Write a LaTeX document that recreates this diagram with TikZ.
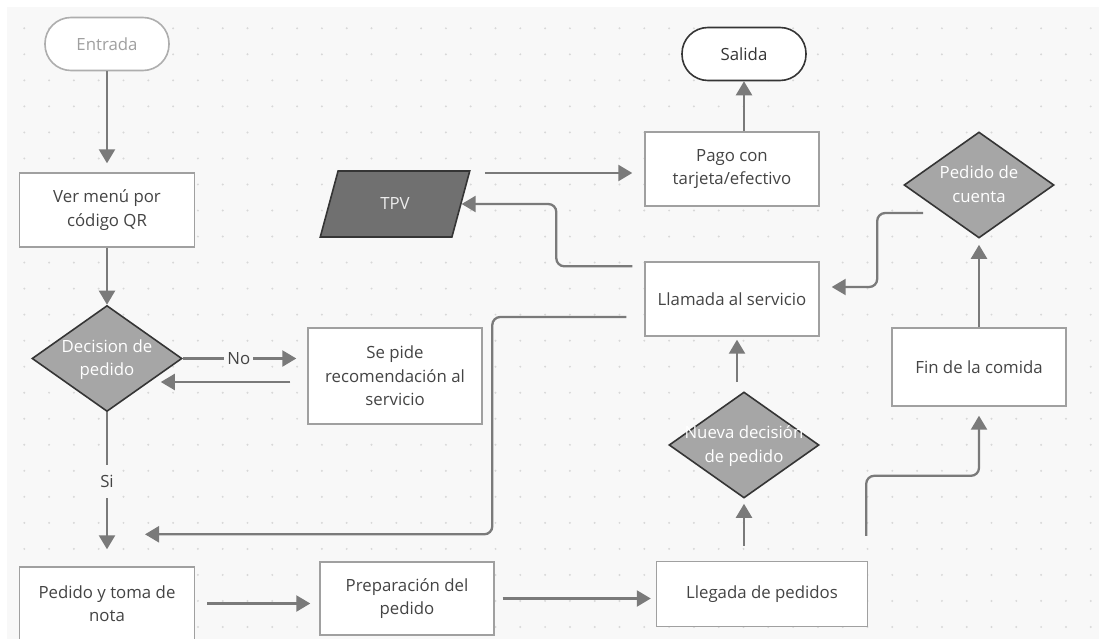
\documentclass[tikz,border=0pt]{standalone}
\usepackage{fontspec}
\setmainfont{Open Sans}
\usetikzlibrary{shapes.geometric, arrows.meta, positioning}
\usepackage{xcolor}
\definecolor{fondo}{HTML}{F8F8F8}
\definecolor{punto}{HTML}{D8D8D8}
\definecolor{bordecaja}{HTML}{A0A0A0}
\definecolor{bordeoscuro}{HTML}{353535}
\definecolor{rellenorombo}{HTML}{A6A6A6}
\definecolor{rellenotpv}{HTML}{707070}
\definecolor{texto}{HTML}{444444}
\definecolor{gris}{HTML}{7A7A7A}
\newcommand{\textorombo}[1]{\smash{\makebox[0pt]{\raisebox{-5pt}{%
  \begin{tabular}{@{}c@{}}#1\end{tabular}}}}}
\tikzset{
  caja/.style={rectangle, draw=bordecaja, fill=white, line width=1.4pt,
               minimum width=175pt, minimum height=74pt, align=center,
               text=texto, inner sep=0pt},
  rombo/.style={diamond, draw=bordeoscuro, fill=rellenorombo, line width=1.6pt,
                minimum width=150pt, minimum height=106pt, text=white,
                inner sep=0pt},
  terminal/.style={rectangle, rounded corners=26pt, fill=white, line width=1.6pt,
                   minimum width=124pt, minimum height=53pt},
  datos/.style={trapezium, trapezium left angle=69, trapezium right angle=111,
                trapezium stretches=true, draw=bordeoscuro, fill=rellenotpv,
                line width=1.6pt, text=white!93!black,
                minimum width=150pt, minimum height=66pt, inner sep=0pt},
  flecha/.style={-{Triangle[length=14pt, width=16pt]}, line width=2.3pt, draw=gris}
}

\begin{document}
\begin{tikzpicture}[
  x=1pt, y=-1pt,
  font=\fontsize{16.8}{23.5}\selectfont,
  etiqueta/.style={fill=fondo, text=texto, inner xsep=3pt, inner ysep=10pt}
]
  % ── Fondo con rejilla de puntos ──
  \useasboundingbox (0,0) rectangle (1099,639);
  \fill[fondo] (7,7) rectangle (1099,639);
  \foreach \i in {0,...,43}
    \foreach \j in {0,...,23}
      \fill[punto] (24.3+24.8*\i, 28.3+26.03*\j) circle (1.1pt);

  % ── Columna izquierda ──
  \node[terminal, draw=bordecaja!85, text=bordecaja] (entrada) at (107,44) {Entrada};
  \node[caja, below=101pt of entrada]     (ver)      {Ver menú por\\código QR};
  \node[rombo, below=57pt of ver]         (decision) {\textorombo{Decision de\\pedido}};
  \node[caja, below=154pt of decision, minimum height=73pt]
        (pedido) {Pedido y toma de\\nota};
  \node[caja, minimum width=174pt, minimum height=96pt] (recom) at (395,376)
        {Se pide\\recomendación al\\servicio};

  % ── Parte central y derecha ──
  \node[caja, minimum width=174pt, minimum height=73pt] (prep) at (407,598.5)
        {Preparación del\\pedido};
  \node[caja, minimum width=211pt, minimum height=65pt] (llegada) at (762,594)
        {Llegada de pedidos};
  \node[rombo] (nueva) at (744,445) {\textorombo{Nueva decisión\\de pedido}};
  \node[caja, minimum width=174pt] (llamada) at (732,299) {Llamada al servicio};
  \node[caja, minimum width=174pt] (pago)    at (732,169) {Pago con\\tarjeta/efectivo};
  \node[terminal, draw=bordeoscuro, text=bordeoscuro] (salida) at (744,54) {Salida};
  \node[datos] (tpv) at (395,204) {TPV};
  \node[caja, minimum width=174pt, minimum height=78pt] (fin) at (979,367)
        {Fin de la comida};
  \node[rombo] (cuenta) at (979,185) {\textorombo{Pedido de\\cuenta}};

  % ── Flechas ──
  \coordinate (vuelta) at ([yshift=-6pt]recom.west);
  \draw[flecha, shorten >=9pt] (entrada) -- (ver);
  \draw[flecha] (ver) -- (decision);
  \draw[flecha, shorten >=11pt] (decision)
        -- node[etiqueta, pos=0.45] {No} (decision -| recom.west);
  \draw[flecha, shorten <=17pt] (vuelta)
        -- ([xshift=-22pt]decision.east |- vuelta);
  \draw[flecha, shorten >=17pt] (decision)
        -- node[etiqueta, pos=0.45] {Si} (pedido);
  \draw[flecha, shorten <=12pt, shorten >=9pt] (pedido) -- (pedido -| prep.west);
  \draw[flecha, shorten <=8pt, shorten >=5pt] (prep) -- (prep -| llegada.west);
  \draw[flecha, shorten <=15pt, shorten >=5pt] (nueva.south |- llegada.north) -- (nueva.south);
  \draw[flecha, shorten <=9pt, shorten >=3pt] ([xshift=-7pt]nueva.north)
        -- ([xshift=-7pt]nueva.north |- llamada.south);
  \draw[flecha, rounded corners=8pt, shorten >=9pt]
        ([xshift=-2pt, yshift=25pt]llegada.north east) -- ++(0,-60) -| (fin.south);
  \draw[flecha, shorten >=6pt] (fin) -- (cuenta);
  \draw[flecha, rounded corners=8pt, shorten >=12pt]
        ([xshift=20pt, yshift=-28pt]cuenta.west) -- ++(-46,0) |- ([yshift=12pt]llamada.east);
  \draw[flecha, rounded corners=8pt, shorten <=12pt]
        ([yshift=-5pt]llamada.north west) -- ++(-88,0) |- (tpv.east);
  \draw[flecha, shorten <=14pt, shorten >=12pt]
        ([yshift=-4pt]pago.west -| tpv.top right corner) -- ([yshift=-4pt]pago.west);
  \draw[flecha] (salida.south |- pago.north) -- (salida.south);
  \draw[flecha, rounded corners=8pt, shorten <=18pt]
        ([yshift=-18pt]llamada.west) -- ++(-152,0) |- ([xshift=38pt, yshift=32pt]pedido.north);
\end{tikzpicture}
\end{document}
